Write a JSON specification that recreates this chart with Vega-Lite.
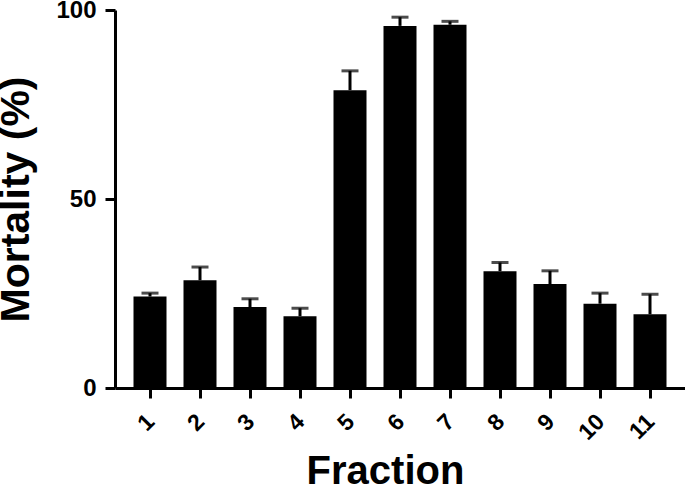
{
  "$schema": "https://vega.github.io/schema/vega-lite/v6.json",
  "autosize": "none",
  "width": 570,
  "height": 378,
  "padding": {"left": 115, "top": 10, "right": 0, "bottom": 114},
  "background": "white",
  "config": {
    "view": {"stroke": null},
    "font": "Liberation Sans",
    "axis": {
      "grid": false,
      "domainColor": "black",
      "domainWidth": 3,
      "tickColor": "black",
      "tickWidth": 3,
      "tickSize": 10,
      "labelColor": "black",
      "titleColor": "black",
      "labelFont": "Liberation Sans",
      "titleFont": "Liberation Sans",
      "labelFontWeight": "bold",
      "titleFontWeight": "bold"
    }
  },
  "data": {
    "values": [
      {"fraction": "1", "mortality": 24.2, "upper": 25.1},
      {"fraction": "2", "mortality": 28.5, "upper": 32.0},
      {"fraction": "3", "mortality": 21.4, "upper": 23.6},
      {"fraction": "4", "mortality": 19.0, "upper": 21.1},
      {"fraction": "5", "mortality": 78.8, "upper": 83.9},
      {"fraction": "6", "mortality": 95.8, "upper": 98.1},
      {"fraction": "7", "mortality": 96.1, "upper": 97.0},
      {"fraction": "8", "mortality": 30.9, "upper": 33.2},
      {"fraction": "9", "mortality": 27.5, "upper": 31.0},
      {"fraction": "10", "mortality": 22.3, "upper": 25.1},
      {"fraction": "11", "mortality": 19.5, "upper": 24.8}
    ]
  },
  "encoding": {
    "x": {
      "field": "fraction",
      "type": "nominal",
      "sort": null,
      "scale": {"paddingInner": 0.34, "paddingOuter": 0.37},
      "axis": {
        "title": "Fraction",
        "titleFontSize": 40,
        "titleX": 270,
        "titleY": 95,
        "titleAlign": "center",
        "titleBaseline": "alphabetic",
        "labelAngle": -45,
        "labelFontSize": 23,
        "labelPadding": 12,
        "labelOffset": -7
      }
    }
  },
  "layer": [
    {
      "mark": {"type": "rule", "color": "black", "strokeWidth": 3},
      "encoding": {
        "y": {"field": "mortality", "type": "quantitative"},
        "y2": {"field": "upper"}
      }
    },
    {
      "mark": {"type": "tick", "color": "black", "thickness": 3, "size": 17, "orient": "horizontal"},
      "encoding": {
        "y": {"field": "upper", "type": "quantitative"}
      }
    },
    {
      "mark": {"type": "bar", "color": "black"},
      "encoding": {
        "y": {
          "field": "mortality",
          "type": "quantitative",
          "scale": {"domain": [0, 100], "nice": false},
          "axis": {
            "title": "Mortality (%)",
            "titleFontSize": 41,
            "titlePadding": 18,
            "values": [0, 50, 100],
            "labelFontSize": 24,
            "labelPadding": 9
          }
        }
      }
    }
  ]
}
